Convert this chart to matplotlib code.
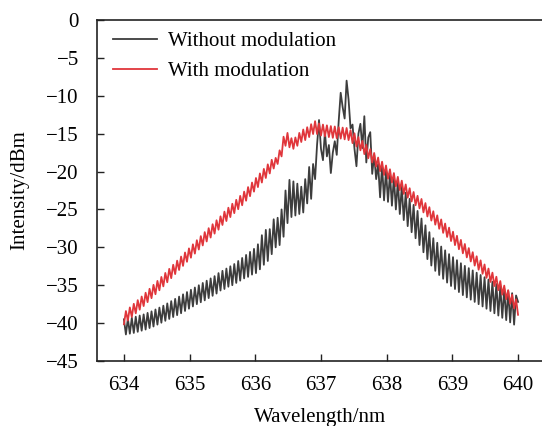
import numpy as np
import matplotlib
matplotlib.use("Agg")
import matplotlib.pyplot as plt

plt.rcParams['font.family'] = ['Liberation Serif', 'DejaVu Serif']

# wavelength grid (nm), 0.03 nm sampling
wavelength = np.round(np.linspace(634.0, 640.0, 201), 2)

without_modulation = [
    -39.5, -41.5, -39.4, -41.4, -39.3, -41.3, -39.15, -41.15, -39.0, -41.0,
    -38.85, -40.85, -38.65, -40.65, -38.45, -40.45, -38.2, -40.2, -37.95, -39.95,
    -37.7, -39.7, -37.4, -39.45, -37.1, -39.2, -36.8, -38.95, -36.5, -38.7,
    -36.2, -38.4, -35.9, -38.1, -35.6, -37.8, -35.3, -37.5, -35.0, -37.25,
    -34.7, -37.0, -34.4, -36.7, -34.1, -36.4, -33.8, -36.1, -33.4, -35.7,
    -33.1, -35.5, -32.8, -35.2, -32.5, -35.0, -32.2, -34.7, -31.8, -34.4,
    -31.4, -34.1, -31.0, -33.9, -30.6, -33.6, -30.2, -33.4, -29.6, -32.9,
    -28.4, -32.3, -27.7, -31.8, -27.6, -30.9, -26.3, -30.0, -26.1, -29.7,
    -25.0, -28.6, -22.5, -26.8, -21.1, -26.0, -21.3, -25.8, -21.6, -25.6,
    -22.0, -25.4, -21.0, -24.2, -19.4, -23.6, -19.0, -21.0, -16.5, -13.2,
    -17.0, -18.5, -14.8, -18.0, -16.5, -20.2, -17.5, -16.0, -17.8, -13.3,
    -9.6, -11.5, -13.0, -8.0, -10.5, -14.3, -13.8, -17.0, -19.3, -15.0,
    -13.7, -16.9, -12.7, -18.8, -15.5, -14.8, -20.3, -17.8, -21.0, -19.0,
    -23.4, -19.2, -23.8, -19.8, -24.0, -20.25, -24.5, -20.75, -25.0, -21.3,
    -25.6, -22.0, -26.4, -22.8, -27.2, -23.6, -28.0, -24.4, -28.8, -25.2,
    -29.7, -26.2, -30.65, -27.1, -31.55, -28.0, -32.4, -28.8, -33.1, -29.4,
    -33.65, -29.9, -34.15, -30.4, -34.65, -30.9, -35.1, -31.3, -35.5, -31.7,
    -35.9, -32.1, -36.3, -32.45, -36.6, -32.75, -36.9, -33.05, -37.2, -33.35,
    -37.5, -33.65, -37.8, -33.95, -38.1, -34.25, -38.4, -34.55, -38.7, -34.85,
    -39.0, -35.15, -39.3, -35.45, -39.6, -35.75, -39.9, -36.05, -40.2, -36.35,
    -37.2,
]

with_modulation = [
    -40.15, -38.41, -39.67, -37.93, -39.19, -37.45, -38.71, -36.97, -38.23, -36.49,
    -37.75, -35.99, -37.23, -35.47, -36.71, -34.95, -36.19, -34.43, -35.67, -33.91,
    -35.15, -33.38, -34.61, -32.84, -34.07, -32.3, -33.53, -31.76, -32.99, -31.22,
    -32.45, -30.68, -31.91, -30.14, -31.37, -29.6, -30.83, -29.06, -30.29, -28.52,
    -29.75, -27.99, -29.23, -27.47, -28.71, -26.95, -28.19, -26.43, -27.67, -25.91,
    -27.05, -25.29, -26.53, -24.77, -26.01, -24.25, -25.49, -23.73, -24.97, -23.21,
    -24.45, -22.65, -23.85, -22.05, -23.25, -21.45, -22.65, -20.85, -22.05, -20.25,
    -21.45, -19.65, -20.85, -19.05, -20.25, -18.45, -19.6, -18.2, -19.0, -17.2,
    -18.0, -15.4, -16.6, -14.9, -16.8, -15.6, -17.0, -15.5, -16.6, -14.9,
    -16.1, -14.45, -15.85, -14.15, -15.45, -13.75, -15.05, -13.35, -15.05, -13.65,
    -15.25, -13.8, -15.35, -13.9, -15.45, -14.0, -15.55, -14.05, -15.6, -14.15,
    -15.65, -14.2, -15.75, -14.25, -15.85, -14.55, -16.25, -14.95, -16.7, -15.45,
    -17.2, -15.95, -17.7, -16.45, -18.25, -17.05, -18.8, -17.55, -19.35, -18.15,
    -19.95, -18.7, -20.45, -19.2, -20.95, -19.7, -21.45, -20.2, -21.95, -20.7,
    -22.45, -21.2, -22.95, -21.7, -23.45, -22.2, -23.95, -22.7, -24.45, -23.2,
    -24.85, -23.62, -25.39, -24.16, -25.93, -24.7, -26.47, -25.24, -27.01, -25.78,
    -27.55, -26.32, -28.09, -26.86, -28.63, -27.4, -29.17, -27.94, -29.71, -28.48,
    -30.25, -29.02, -30.79, -29.56, -31.33, -30.1, -31.87, -30.64, -32.41, -31.18,
    -32.95, -31.72, -33.49, -32.26, -34.03, -32.8, -34.57, -33.34, -35.11, -33.88,
    -35.65, -34.45, -36.25, -35.05, -36.85, -35.65, -37.45, -36.25, -38.05, -36.85,
    -38.9,
]

series_labels = ["Without modulation", "With modulation"]
x_ticks = [634, 635, 636, 637, 638, 639, 640]
y_ticks = [0, -5, -10, -15, -20, -25, -30, -35, -40, -45]

fig = plt.figure(figsize=(5.42, 4.26), dpi=100)
ax = fig.add_axes([97 / 542, 65 / 426, 446 / 542, 341 / 426])

ax.plot(wavelength, without_modulation, color='#3d3d3d', lw=1.3, label=series_labels[0])
ax.plot(wavelength, with_modulation, color='#e0363b', lw=1.3, label=series_labels[1])

ax.set_xlim(633.59, 640.38)
ax.set_ylim(-45, 0)
ax.set_xticks(x_ticks)
ax.set_yticks(y_ticks)
ax.set_yticklabels([str(v).replace('-', '\u2212') for v in y_ticks])
ax.tick_params(axis='both', direction='in', length=5, width=1.0, labelsize=15, color='#222222')
ax.tick_params(axis='x', pad=11)
ax.tick_params(axis='y', pad=13)
for s in ax.spines.values():
    s.set_linewidth(1.2)
    s.set_color('#222222')

ax.set_xlabel("Wavelength/nm", fontsize=15, labelpad=9)
ax.set_ylabel("Intensity/dBm", fontsize=15, labelpad=12)

ax.legend(loc='upper left', bbox_to_anchor=(6 / 446, 1 - 1 / 341),
          frameon=False, fontsize=15, handlelength=2.1,
          handletextpad=0.5, borderaxespad=0.2, labelspacing=0.52,
          borderpad=0.3)

fig.savefig("out.png", dpi=100)
